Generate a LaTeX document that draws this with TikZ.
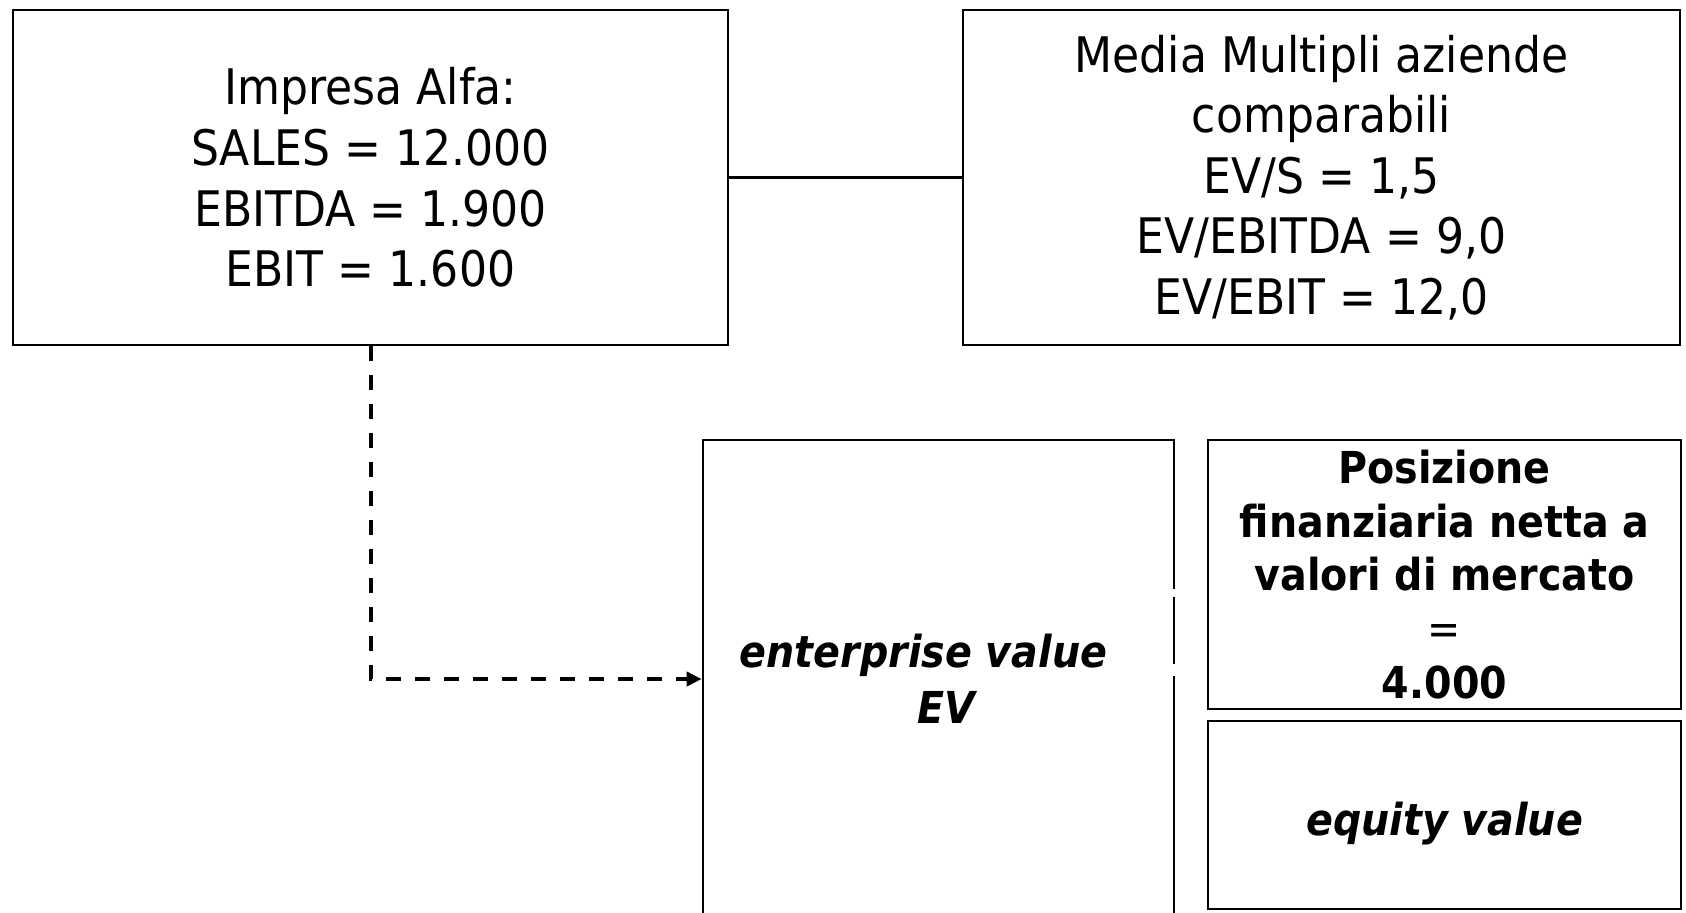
\documentclass[tikz,border=0pt]{standalone}
\usepackage{fontspec}
\setmainfont{DejaVu Sans}[FakeStretch=0.9]
\usetikzlibrary{arrows.meta}

\tikzset{
  box/.style={draw=black, line width=1.3pt, rectangle, inner sep=0pt, align=center},
  plain/.style={box, font=\fontsize{24.5}{30.3}\selectfont},
  strong/.style={box, font=\fontsize{22}{28}\selectfont\bfseries},
  link/.style={draw=black, line width=1.3pt},
  flow/.style={draw=black, line width=2pt, dash pattern=on 7.5pt off 7pt,
    -{Triangle[length=7.5pt,width=7pt]}}
}

\begin{document}
\begin{tikzpicture}[x=0.5pt, y=-0.5pt]
  \useasboundingbox (0,0) rectangle (1686,912);
  \begin{scope}
    \clip (0,0) rectangle (1686,912);

    % top row: company figures and peer multiples
    \node[plain, minimum width=357.5pt, minimum height=167.5pt] (alfa) at (370.5,177.5)
      {Impresa Alfa:\\SALES = 12.000\\EBITDA = 1.900\\EBIT = 1.600};
    \node[plain, minimum width=358.5pt, minimum height=167.5pt] (multipli) at (1321.5,177.5)
      {Media Multipli aziende\\comparabili\\EV/S = 1,5\\EV/EBITDA = 9,0\\EV/EBIT = 12,0};

    % bottom row: enterprise value split into net debt and equity
    \node[strong, minimum width=235.5pt, minimum height=239pt] (ev) at (938.5,679)
      {\itshape enterprise value\rule{15pt}{0pt}\\\itshape\rule{8pt}{0pt}EV};
    \node[strong, minimum width=236.5pt, minimum height=134.5pt,
          font=\fontsize{22}{26.8}\selectfont\bfseries] (pfn) at (1444.5,574.5)
      {Posizione\\finanziaria netta a\\valori di mercato\\{\mdseries =}\\4.000};
    \node[strong, minimum width=236.5pt, minimum height=94pt, text height=25.5pt] (equity) at (1444.5,815)
      {\itshape equity value};

    % small breaks in the right edge of the EV box
    \draw[white, line width=3pt] ([yshift=-75pt]ev.north east) -- ([yshift=-79pt]ev.north east);
    \draw[white, line width=3pt] ([yshift=-112.5pt]ev.north east) -- ([yshift=-118.5pt]ev.north east);

    % connectors
    \draw[link] (alfa) -- (multipli);
    \draw[flow] (alfa.south) |- (ev.west);
  \end{scope}
\end{tikzpicture}
\end{document}
